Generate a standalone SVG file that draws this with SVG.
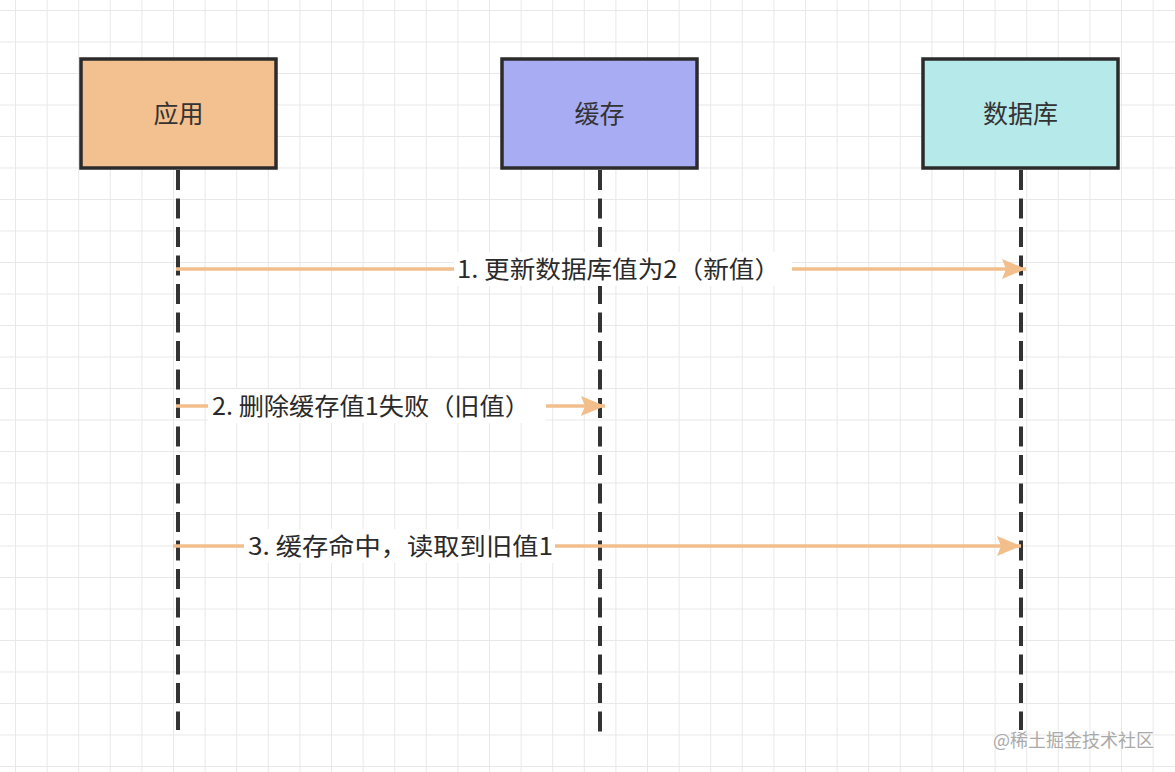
<svg xmlns="http://www.w3.org/2000/svg" width="1175" height="772" viewBox="0 0 1175 772">
<defs>
<pattern id="grid" x="15" y="10" width="31.6" height="31.5" patternUnits="userSpaceOnUse">
<path d="M0 0V31.5M0 0H31.6" fill="none" stroke="#e8e8e8" stroke-width="2"/>
</pattern>
<marker id="arr" viewBox="0 0 24 20" refX="24" refY="10" markerWidth="24" markerHeight="20" markerUnits="userSpaceOnUse" orient="auto">
<path d="M0 0L24 10L0 20L4 10z" fill="#f2bf8c"/>
</marker>
</defs>
<style>
.box{stroke:#2b2b2b;stroke-width:3.5}
.life{stroke:#333;stroke-width:4;stroke-dasharray:20 8.5;fill:none}
.msg{stroke:#f2bf8c;stroke-width:3.5;fill:none}
.t{font-family:"Noto Sans CJK SC","Noto Sans",sans-serif;font-size:25px;fill:#333}
.lbl{font-family:"Noto Sans CJK SC","Noto Sans",sans-serif;font-size:24px;fill:#2a2a2a}
.wm{font-family:"Noto Sans CJK SC",sans-serif;font-size:18px;fill:#aaa}
</style>
<rect width="1175" height="772" fill="#fff"/>
<rect width="1175" height="772" fill="url(#grid)"/>
<g id="lifelines">
<line class="life" x1="178" y1="170" x2="178" y2="730"/>
<line class="life" x1="600" y1="170" x2="600" y2="740"/>
<line class="life" x1="1021" y1="170" x2="1021" y2="730"/>
</g>
<g id="node-app">
<rect class="box" x="81" y="59" width="195" height="109" fill="#f3c08f"/>
<text class="t" x="178.5" y="123" text-anchor="middle">应用</text>
</g>
<g id="node-cache">
<rect class="box" x="502" y="59" width="195" height="109" fill="#a8adf3"/>
<text class="t" x="599.5" y="123" text-anchor="middle">缓存</text>
</g>
<g id="node-db">
<rect class="box" x="923" y="59" width="195" height="109" fill="#b6e9e9"/>
<text class="t" x="1020.5" y="123" text-anchor="middle">数据库</text>
</g>
<g id="connectors">
<line class="msg" x1="176" y1="269" x2="1026" y2="269" marker-end="url(#arr)"/>
<line class="msg" x1="176" y1="406" x2="605" y2="406" marker-end="url(#arr)"/>
<line class="msg" x1="173" y1="546" x2="1021" y2="546" marker-end="url(#arr)"/>
<rect x="454" y="252" width="338" height="34" fill="#fff"/>
<text class="lbl" x="457" y="278" textLength="323" lengthAdjust="spacingAndGlyphs">1. 更新数据库值为2（新值）</text>
<rect x="208" y="389" width="338" height="34" fill="#fff"/>
<text class="lbl" x="212" y="415" textLength="318" lengthAdjust="spacingAndGlyphs">2. 删除缓存值1失败（旧值）</text>
<rect x="244" y="529" width="311" height="34" fill="#fff"/>
<text class="lbl" x="248" y="555" textLength="305" lengthAdjust="spacingAndGlyphs">3. 缓存命中，读取到旧值1</text>
</g>
<text class="wm" x="993" y="747">@稀土掘金技术社区</text>
</svg>
